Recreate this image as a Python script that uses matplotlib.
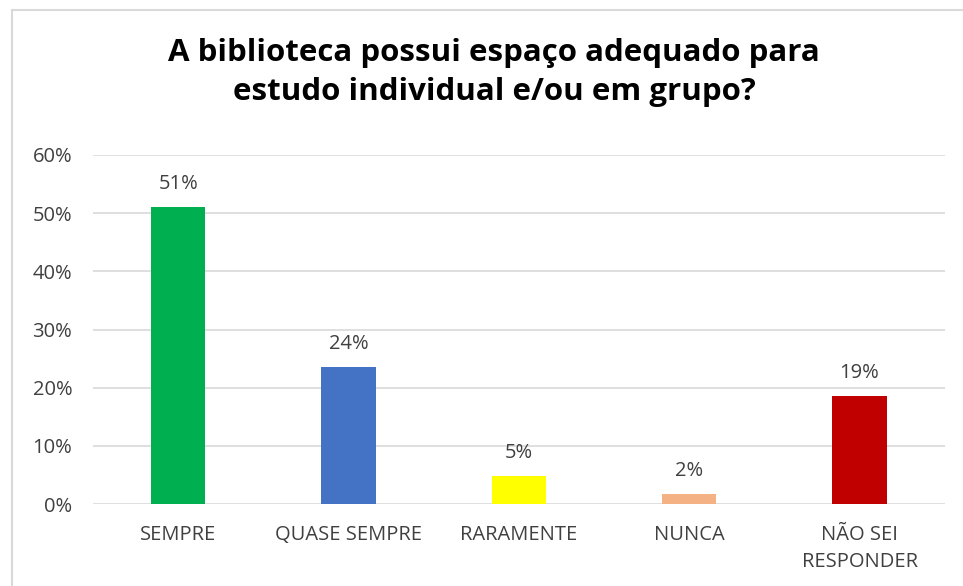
import matplotlib.pyplot as plt
from matplotlib.patches import Rectangle
from matplotlib.ticker import FuncFormatter

categorias = ['SEMPRE', 'QUASE SEMPRE', 'RARAMENTE', 'NUNCA', 'NÃO SEI\nRESPONDER']
valores = [51.1, 23.6, 4.8, 1.7, 18.6]
rotulos = ['51%', '24%', '5%', '2%', '19%']
cores = ['#00B050', '#4472C4', '#FFFF00', '#F4B183', '#C00000']

plt.rcParams['font.family'] = ['Open Sans', 'DejaVu Sans']

fig = plt.figure(figsize=(9.63, 5.86), dpi=100)
ax = fig.add_axes([0.0966, 0.1399, 0.8844, 0.5956])

x = range(len(categorias))
ax.bar(x, valores, width=0.32, color=cores, zorder=3)
for i, v in enumerate(valores):
    ax.text(i, v + 2.2, rotulos[i], ha='center', va='bottom', fontsize=14.5, color='#404040')

ax.set_ylim(0, 60)
ax.set_xlim(-0.5, len(categorias) - 0.5)
ax.set_yticks(range(0, 61, 10))
ax.yaxis.set_major_formatter(FuncFormatter(lambda v, p: f'{int(v)}%'))
ax.set_xticks(list(x))
ax.set_xticklabels(categorias, fontsize=14.5, color='#404040', linespacing=1.5)
ax.tick_params(axis='y', labelsize=14.5, labelcolor='#404040', length=0, pad=15)
ax.tick_params(axis='x', length=0, pad=15)
ax.grid(axis='y', color='#D9D9D9', linewidth=1.2, zorder=0)
for s in ax.spines.values():
    s.set_visible(False)

fig.suptitle('A biblioteca possui espaço adequado para\nestudo individual e/ou em grupo?',
             x=0.513, y=0.935, fontsize=22.5, fontweight='bold', color='black', linespacing=1.38)

# moldura do gráfico
fig.patches.append(Rectangle((12 / 963, -0.1), 1.2, 1 - 10 / 586 + 0.1, transform=fig.transFigure,
                             fill=False, edgecolor='#D9D9D9', linewidth=1.5))

fig.savefig('out.png', dpi=100)
